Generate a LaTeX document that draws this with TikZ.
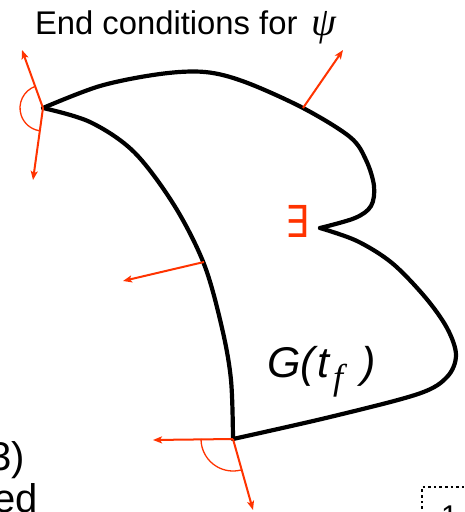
\documentclass[tikz,border=0pt]{standalone}
\usepackage{fontspec}
\setmainfont{Liberation Sans}
\newfontfamily\serifit{Liberation Serif}[ItalicFont={* Italic}]
\newfontfamily\symfont{DejaVu Sans}
\usetikzlibrary{arrows.meta}
\definecolor{arrred}{HTML}{FF3300}
\begin{document}
\begin{tikzpicture}[x=1pt,y=-1pt,
  outline/.style={line width=4.2pt, line join=round, line cap=round},
  redarrow/.style={arrred, line width=2pt, -{Stealth[length=9pt,width=7pt,inset=2pt]}},
  anglearc/.style={arrred, line width=1.3pt},
  lbl/.style={inner sep=0pt, outer sep=0pt}]
\useasboundingbox (0,0) rectangle (465,512);
\clip (0,0) rectangle (465,512);
\fill[white] (0,0) rectangle (465,512);

% corner points
\coordinate (A) at (43,108);
\coordinate (B) at (233,439);
\coordinate (C) at (320,228);

% outline
\draw[outline] plot[smooth, tension=0.55] coordinates {(43,108) (100,86) (160,74) (205,72) (245,82) (303,108) (350,137) (366,160) (374,186) (371,206) (355,218) (320,228)};
\draw[outline] plot[smooth, tension=0.55] coordinates {(320,228) (357,241) (392,263) (425,297) (447,328) (456,355) (447,377) (418,394) (330,417) (233,439)};
\draw[outline] plot[smooth, tension=0.55] coordinates {(233,439) (231,380) (222,328) (204,264) (174,205) (134,152) (90,122) (43,108)};

% arrows at A
\coordinate (Aup) at (22,50);
\coordinate (Adn) at (33,180);
\draw[redarrow] (A) -- (Aup);
\draw[redarrow] (A) -- (Adn);
\draw[anglearc] ([shift={(109:23pt)}]A) arc[start angle=109, end angle=260, radius=23pt];

% top normal
\coordinate (T0) at (303,108);
\coordinate (T1) at (343,50);
\draw[redarrow] (T0) -- (T1);

% left edge normal
\coordinate (L0) at (204,262);
\coordinate (L1) at (123,281);
\draw[redarrow] (L0) -- (L1);

% arrows at B
\coordinate (Blt) at (153,440);
\coordinate (Bdn) at (253,510);
\draw[redarrow] (B) -- (Blt);
\draw[redarrow] (B) -- (Bdn);
\draw[anglearc] ([shift={(180:32pt)}]B) arc[start angle=180, end angle=284, radius=32pt];

% texts
\node[lbl, anchor=base west, font=\fontsize{32.8}{38}\selectfont] (title) at (35,34) {End conditions for};
\node[lbl, anchor=base west, font=\serifit\itshape\fontsize{40}{46}\selectfont] (psi) at (311,35) {ψ};
\node[lbl, text=arrred, font=\symfont\fontsize{44}{50}\selectfont, xscale=0.85] (exists) at (297.5,221.5) {∃};

\node[lbl, anchor=base west, font=\itshape\fontsize{43}{50}\selectfont] (G) at (267,377) {G(};
\node[lbl, anchor=base west, font=\itshape\fontsize{43}{50}\selectfont] (t) at (317,377) {t};
\node[lbl, anchor=base west, font=\serifit\itshape\fontsize{36}{42}\selectfont] (f) at (333,389) {f};
\node[lbl, anchor=base west, font=\itshape\fontsize{43}{50}\selectfont] (rp) at (361,377) {)};

\node[lbl, anchor=base east, font=\fontsize{40}{46}\selectfont] (three) at (25,470) {3)};
\node[lbl, anchor=base east, font=\fontsize{40}{46}\selectfont] (ed) at (38,512) {ed};

% dotted box
\coordinate (D0) at (422,520);
\coordinate (D1) at (422,487);
\coordinate (D2) at (470,487);
\draw[line width=2.6pt, dash pattern=on 2.6pt off 3pt] (D0) -- (D1) -- (D2);
\node[lbl, anchor=north west, font=\fontsize{30}{36}\selectfont] (one) at (441,506) {1};
\end{tikzpicture}
\end{document}
